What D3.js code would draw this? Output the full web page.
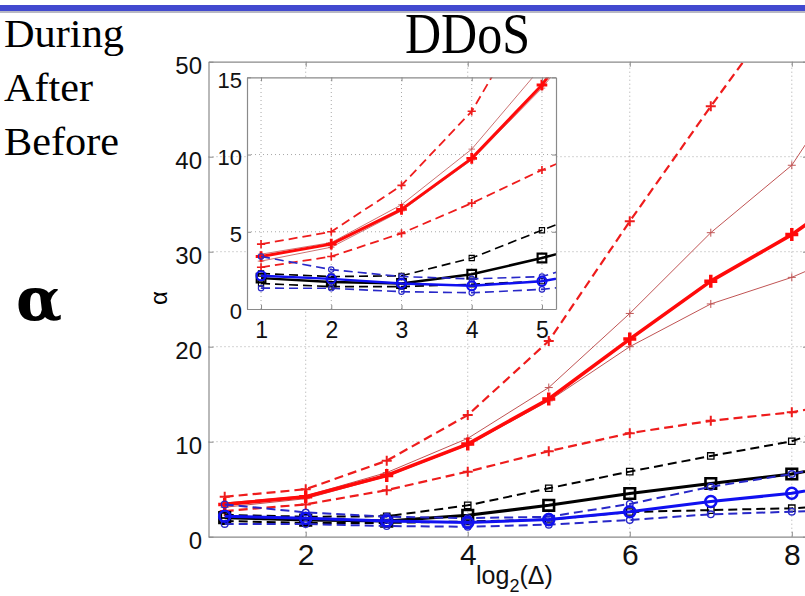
<!DOCTYPE html>
<html>
<head>
<meta charset="utf-8">
<script src="https://cdn.jsdelivr.net/npm/d3@7"></script>
<style>
  body { margin: 0; background: #fff; }
  svg { display: block; }
</style>
</head>
<body>
<svg id="chart" width="805" height="596"></svg>
<script>
// Window sizes, log2(Δ) = 1 … 9
const steps = [1, 2, 3, 4, 5, 6, 7, 8, 9];

// Red group: mean, thin envelope, dashed envelope
const redMean    = [3.4, 4.2, 6.45, 9.75, 14.5, 20.8, 26.9, 31.8, 37.8];
const redThinHi  = [3.55, 4.3, 6.75, 10.35, 15.7, 23.5, 32.0, 39.1, 52.0];
const redThinLo  = [3.1, 4.0, 6.35, 9.65, 14.3, 20.0, 24.5, 27.3, 31.0];
const redDashHi  = [4.2, 5.0, 8.0, 12.8, 20.6, 33.2, 45.3, 57.0, 70.0];
const redDashLo  = [2.7, 3.4, 4.9, 6.85, 9.0, 10.9, 12.2, 13.1, 14.6];

// Black group: mean and dashed envelope
const blackMean   = [2.0, 1.75, 1.65, 2.25, 3.3, 4.55, 5.6, 6.6, 8.2];
const blackDashHi = [2.3, 2.1, 2.15, 3.3, 5.1, 6.85, 8.5, 10.05, 12.9];
const blackDashLo = [1.65, 1.45, 1.45, 1.6, 1.8, 2.6, 2.8, 3.0, 3.4];

// Blue group: mean and dashed envelope
const blueMean   = [2.15, 1.95, 1.65, 1.5, 1.8, 2.63, 3.7, 4.57, 6.0];
const blueDashHi = [3.4, 2.55, 2.1, 1.95, 2.1, 3.45, 5.25, 6.6, 8.4];
const blueDashLo = [1.35, 1.34, 1.12, 1.05, 1.27, 1.76, 2.36, 2.63, 3.0];

// Tick values
const mainXTicks  = [2, 4, 6, 8];
const mainYTicks  = [0, 10, 20, 30, 40, 50];
const insetXTicks = [1, 2, 3, 4, 5];
const insetYTicks = [0, 5, 10, 15];

const sideLabels = ["During", "After", "Before"];
const titleText = "DDoS";

// Line styles per series (drawn in this order)
const RED = "#ff0a0a", RED_DASH = "#ee1c1c", RED_THIN = "#c05454";
const BLUE = "#1010f0", BLUE_DASH = "#2828c8";
const series = [
  { v: redDashHi,  color: RED_DASH,  w: 2.2, dash: "9,5", mk: "plus",   s: 5,   mw: 2 },
  { v: redDashLo,  color: RED_DASH,  w: 2.2, dash: "9,5", mk: "plus",   s: 5,   mw: 2 },
  { v: redThinHi,  color: RED_THIN,  w: 1,   dash: null,  mk: "plus",   s: 4,   mw: 1 },
  { v: redThinLo,  color: RED_THIN,  w: 1,   dash: null,  mk: "plus",   s: 4,   mw: 1 },
  { v: redMean,    color: RED,       w: 3.6, dash: null,  mk: "plus",   s: 6.5, mw: 3.5 },
  { v: blackDashHi, color: "#000",   w: 2,   dash: "9,5", mk: "square", s: 3.2, mw: 1.3 },
  { v: blackDashLo, color: "#000",   w: 2,   dash: "9,5", mk: "square", s: 3.2, mw: 1.3 },
  { v: blackMean,   color: "#000",   w: 3,   dash: null,  mk: "square", s: 5.3, mw: 2.6 },
  { v: blueDashHi, color: BLUE_DASH, w: 2,   dash: "9,5", mk: "circle", s: 3.3, mw: 1.4 },
  { v: blueDashLo, color: BLUE_DASH, w: 2,   dash: "9,5", mk: "circle", s: 3.3, mw: 1.4 },
  { v: blueMean,   color: BLUE,      w: 3,   dash: null,  mk: "circle", s: 5.5, mw: 2.6 }
];

const svg = d3.select("#chart");
svg.append("rect").attr("width", 805).attr("height", 596).attr("fill", "#fff");

// Header band
svg.append("rect").attr("x", 0).attr("y", 5).attr("width", 805).attr("height", 6).attr("fill", "#4249cf");
svg.append("rect").attr("x", 0).attr("y", 11).attr("width", 805).attr("height", 2).attr("fill", "#b8b8c4");

const AXIS_GREY = "#8a8a8a";
const GRID_GREY = "#a8a8a8";

function markerPath(kind, s) {
  if (kind === "plus") return `M${-s},0H${s}M0,${-s}V${s}`;
  if (kind === "square") return `M${-s},${-s}H${s}V${s}H${-s}Z`;
  return null;
}

// One set of axes: frame, grid, data lines and markers
function drawPanel(opts) {
  const { g, x, y, clipId, xGrid, yGrid, mscale } = opts;
  const [x0, x1] = x.range();
  const [y0, y1] = y.range(); // y0 bottom, y1 top

  g.append("rect").attr("x", x0).attr("y", y1).attr("width", x1 - x0).attr("height", y0 - y1)
    .attr("fill", "#fff");

  const grid = g.append("g").attr("stroke", GRID_GREY).attr("stroke-width", 1)
    .attr("stroke-dasharray", "1,3");
  grid.selectAll(".gx").data(xGrid).join("line")
    .attr("x1", d => x(d)).attr("x2", d => x(d)).attr("y1", y0).attr("y2", y1);
  grid.selectAll(".gy").data(yGrid).join("line")
    .attr("y1", d => y(d)).attr("y2", d => y(d)).attr("x1", x0).attr("x2", x1);

  g.append("clipPath").attr("id", clipId).append("rect")
    .attr("x", x0).attr("y", y1).attr("width", x1 - x0).attr("height", y0 - y1);
  const plot = g.append("g").attr("clip-path", `url(#${clipId})`);

  const line = d3.line().x((d, i) => x(steps[i])).y(d => y(d));
  series.forEach(sr => {
    const sg = plot.append("g");
    sg.append("path").attr("d", line(sr.v)).attr("fill", "none")
      .attr("stroke", sr.color).attr("stroke-width", sr.w * mscale)
      .attr("stroke-linejoin", "round")
      .attr("stroke-dasharray", sr.dash);
    const pts = sr.v.map((d, i) => [steps[i], d]);
    if (sr.mk === "circle") {
      sg.selectAll("circle").data(pts).join("circle")
        .attr("cx", d => x(d[0])).attr("cy", d => y(d[1]))
        .attr("r", sr.s * mscale).attr("fill", "none")
        .attr("stroke", sr.color).attr("stroke-width", sr.mw * mscale);
    } else {
      sg.selectAll("path.m").data(pts).join("path").attr("class", "m")
        .attr("transform", d => `translate(${x(d[0])},${y(d[1])})`)
        .attr("d", markerPath(sr.mk, sr.s * mscale)).attr("fill", "none")
        .attr("stroke", sr.color).attr("stroke-width", sr.mw * mscale);
    }
  });
}

function styleAxis(sel, fontSize) {
  sel.selectAll(".domain").attr("stroke", AXIS_GREY).attr("stroke-width", 1.2);
  sel.selectAll(".tick line").attr("stroke", AXIS_GREY).attr("stroke-width", 1);
  sel.selectAll(".tick text").attr("fill", "#111")
    .style("font-family", "'Liberation Sans', Arial, sans-serif")
    .style("font-size", fontSize + "px");
  sel.attr("font-family", null).attr("font-size", null);
}

const intFmt = d3.format("d");

// ---- main axes ----
const mx = d3.scaleLinear().domain([0.8, 8.2]).range([208.5, 808]);
const my = d3.scaleLinear().domain([0, 50]).range([536.7, 61.7]);
const mainG = svg.append("g");
drawPanel({ g: mainG, x: mx, y: my, clipId: "clipMain",
  xGrid: mainXTicks, yGrid: mainYTicks.filter(v => v > 0 && v < 50), mscale: 1 });

const mLeft = mainG.append("g").attr("transform", `translate(${mx.range()[0]},0)`)
  .call(d3.axisLeft(my).tickValues(mainYTicks).tickFormat(intFmt)
    .tickSize(-5).tickSizeOuter(0).tickPadding(6.5));
styleAxis(mLeft, 24);
mLeft.selectAll(".tick text").attr("dy", "0.5em");

const mBottom = mainG.append("g").attr("transform", `translate(0,${my.range()[0]})`)
  .call(d3.axisBottom(mx).tickValues(mainXTicks).tickFormat(intFmt)
    .tickSize(-5).tickSizeOuter(0).tickPadding(7));
styleAxis(mBottom, 30);

const mTop = mainG.append("g").attr("transform", `translate(0,${my.range()[1]})`)
  .call(d3.axisTop(mx).tickValues(mainXTicks).tickSize(-5).tickSizeOuter(0).tickFormat(""));
styleAxis(mTop, 24);

const mRight = mainG.append("g").attr("transform", `translate(${mx.range()[1]},0)`)
  .call(d3.axisRight(my).tickValues(mainYTicks).tickSize(-5).tickSizeOuter(0).tickFormat(""));
styleAxis(mRight, 24);

// axis titles
mainG.append("text")
  .attr("transform", "translate(167,298) rotate(-90)")
  .attr("text-anchor", "middle")
  .style("font-family", "'Liberation Sans', Arial, sans-serif")
  .style("font-size", "24px")
  .text("α");

const xl = mainG.append("text")
  .attr("x", 476).attr("y", 584)
  .style("font-family", "'Liberation Sans', Arial, sans-serif")
  .style("font-size", "25px").attr("fill", "#111");
xl.append("tspan").text("log");
xl.append("tspan").attr("dy", 8).style("font-size", "18px").text("2");
xl.append("tspan").attr("dy", -8).text("(Δ)");

// ---- inset axes ----
const ix = d3.scaleLinear().domain([0.8, 5.2]).range([247, 556]);
const iy = d3.scaleLinear().domain([0, 15]).range([309, 77.3]);
const insetG = svg.append("g");
drawPanel({ g: insetG, x: ix, y: iy, clipId: "clipInset",
  xGrid: insetXTicks, yGrid: [5, 10], mscale: 0.82 });

const iLeft = insetG.append("g").attr("transform", `translate(${ix.range()[0]},0)`)
  .call(d3.axisLeft(iy).tickValues(insetYTicks).tickFormat(intFmt)
    .tickSize(-4).tickSizeOuter(0).tickPadding(5));
styleAxis(iLeft, 22);
iLeft.selectAll(".tick text").attr("dy", "0.45em");

const iBottom = insetG.append("g").attr("transform", `translate(0,${iy.range()[0]})`)
  .call(d3.axisBottom(ix).tickValues(insetXTicks).tickFormat(intFmt)
    .tickSize(-4).tickSizeOuter(0).tickPadding(12.7));
styleAxis(iBottom, 23);

const iTop = insetG.append("g").attr("transform", `translate(0,${iy.range()[1]})`)
  .call(d3.axisTop(ix).tickValues(insetXTicks).tickSize(-4).tickSizeOuter(0).tickFormat(""));
styleAxis(iTop, 22);

const iRight = insetG.append("g").attr("transform", `translate(${ix.range()[1]},0)`)
  .call(d3.axisRight(iy).tickValues(insetYTicks).tickSize(-4).tickSizeOuter(0).tickFormat(""));
styleAxis(iRight, 22);

// ---- slide text ----
svg.append("text")
  .attr("x", 405).attr("y", 53)
  .attr("textLength", 125).attr("lengthAdjust", "spacingAndGlyphs")
  .style("font-family", "'Liberation Serif', 'Times New Roman', serif")
  .style("font-size", "58px").attr("fill", "#000")
  .text(titleText);

const sideWidths = [120, 89, 115];
svg.selectAll("text.side").data(sideLabels).join("text").attr("class", "side")
  .attr("x", 4).attr("y", (d, i) => 47 + i * 54)
  .attr("textLength", (d, i) => sideWidths[i]).attr("lengthAdjust", "spacingAndGlyphs")
  .style("font-family", "'Liberation Serif', 'Times New Roman', serif")
  .style("font-size", "39px").attr("fill", "#000")
  .text(d => d);

svg.append("text")
  .attr("x", 16).attr("y", 320)
  .style("font-family", "'DejaVu Serif', 'Liberation Serif', serif")
  .style("font-size", "60px").style("font-weight", "bold").attr("fill", "#000")
  .text("α");
</script>
</body>
</html>
